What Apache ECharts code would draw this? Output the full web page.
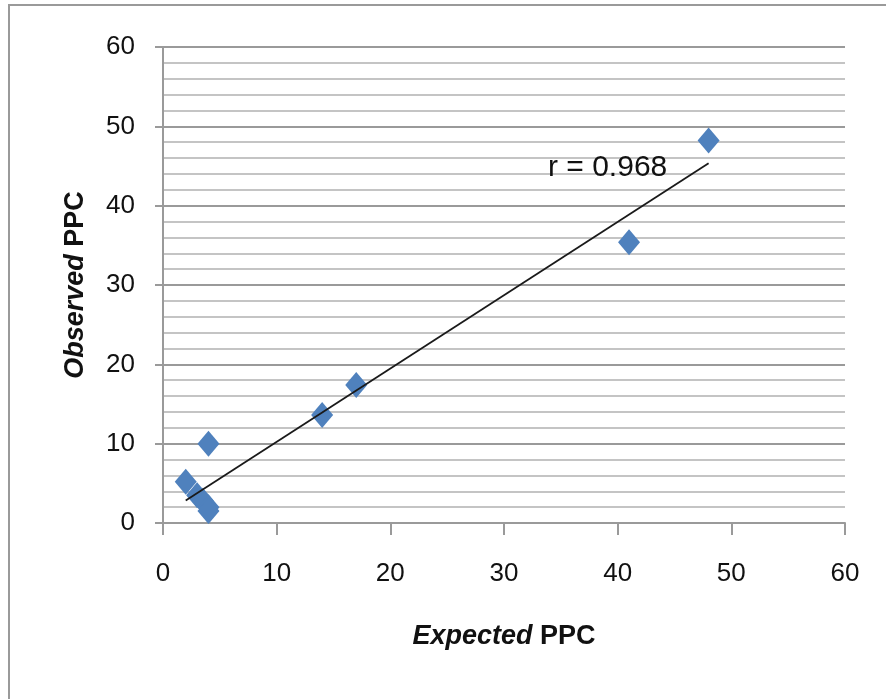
<!DOCTYPE html>
<html>
<head>
<meta charset="utf-8">
<script src="https://cdn.jsdelivr.net/npm/echarts@6/dist/echarts.min.js"></script>
<style>html,body{margin:0;padding:0;background:#fff}#c{width:886px;height:699px}</style>
</head>
<body>
<div id="c"></div>
<script>
const expected = [2, 4, 3, 3.5, 4, 4, 14, 17, 41, 48];
const observed = [5.2, 10, 3.5, 2.8, 2, 1.5, 13.6, 17.4, 35.4, 48.2];
const xTicks = [0, 10, 20, 30, 40, 50, 60];
const yTicks = [0, 10, 20, 30, 40, 50, 60];
const rLabel = 'r = 0.968';

const points = expected.map((x, i) => [x, observed[i]]);
// least squares trend line
const n = expected.length;
const mx = expected.reduce((a, b) => a + b, 0) / n;
const my = observed.reduce((a, b) => a + b, 0) / n;
let sxy = 0, sxx = 0;
for (let i = 0; i < n; i++) { sxy += (expected[i] - mx) * (observed[i] - my); sxx += (expected[i] - mx) ** 2; }
const slope = sxy / sxx, icpt = my - slope * mx;
const xMin = Math.min(...expected), xMax = Math.max(...expected);
const trend = [[xMin, icpt + slope * xMin], [xMax, icpt + slope * xMax]];

const tickFont = "'Liberation Sans', Arial, sans-serif";
const titleFont = "'Liberation Sans', Arial, sans-serif";
const richTitle = {
  i: {fontFamily: titleFont, fontSize: 27, fontWeight: 'bold', fontStyle: 'italic', color: '#111'},
  b: {fontFamily: titleFont, fontSize: 27, fontWeight: 'bold', color: '#111'}
};

const chart = echarts.init(document.getElementById('c'), null, {renderer: 'canvas'});
chart.setOption({
  animation: false,
  backgroundColor: '#fff',
  grid: {left: 163, right: 41, top: 47, bottom: 176, containLabel: false},
  xAxis: {
    type: 'value', min: xTicks[0], max: xTicks[xTicks.length - 1], interval: 10,
    axisLine: {show: true, onZero: false, lineStyle: {color: '#9a9a9a', width: 2}},
    axisTick: {show: true, length: 12, lineStyle: {color: '#9a9a9a', width: 2}},
    axisLabel: {fontFamily: tickFont, fontSize: 26, color: '#111', margin: 38},
    splitLine: {show: false},
    name: '{i|Expected}{b| PPC}',
    nameLocation: 'middle', nameGap: 100,
    nameTextStyle: {rich: richTitle}
  },
  yAxis: {
    type: 'value', min: yTicks[0], max: yTicks[yTicks.length - 1], interval: 10,
    axisLine: {show: true, onZero: false, lineStyle: {color: '#9a9a9a', width: 2}},
    axisTick: {show: true, length: 8, lineStyle: {color: '#9a9a9a', width: 2}},
    axisLabel: {fontFamily: tickFont, fontSize: 26, color: '#111', margin: 28},
    splitLine: {show: true, lineStyle: {color: '#9a9a9a', width: 2}},
    minorTick: {show: false, splitNumber: 5},
    minorSplitLine: {show: true, lineStyle: {color: '#c4c4c4', width: 2}},
    name: '{i|Observed}{b| PPC}',
    nameLocation: 'middle', nameGap: 74, nameRotate: 90,
    nameTextStyle: {rich: richTitle}
  },
  series: [
    {
      type: 'scatter', data: points, symbol: 'diamond', symbolSize: [22, 26],
      itemStyle: {color: '#4f81bd', opacity: 1}, z: 2
    },
    {
      type: 'line', data: trend, symbol: 'none', silent: true,
      lineStyle: {color: '#1a1a1a', width: 1.8}, z: 3
    }
  ],
  graphic: [
    {type: 'rect', shape: {x: 9, y: 5, width: 900, height: 720}, style: {fill: 'none', stroke: '#9a9a9a', lineWidth: 2}, z: -1},
    {type: 'text', left: 548, top: 153, style: {text: rLabel, font: "30px 'Liberation Sans', Arial, sans-serif", fill: '#111'}, z: 10}
  ]
});
</script>
</body>
</html>
